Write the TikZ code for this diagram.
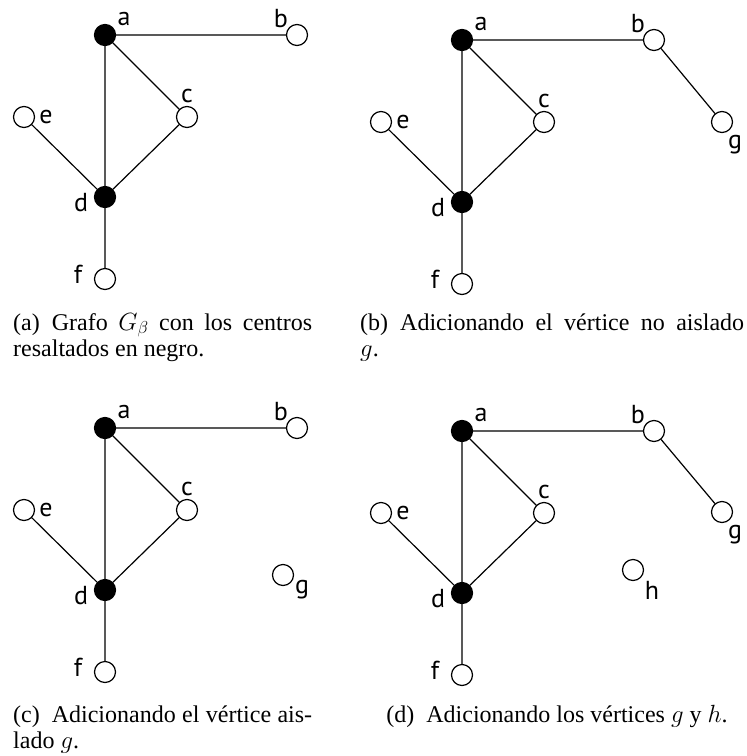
\documentclass[tikz,border=0pt]{standalone}
\usepackage{fontspec}
\setmainfont{Liberation Serif}
\newfontfamily\etqfont{PT Sans}

\tikzset{
  centro/.style={circle,fill=black,draw=black,line width=1.2pt,minimum size=21pt,inner sep=0pt},
  vert/.style={circle,fill=white,draw=black,line width=1.2pt,minimum size=21pt,inner sep=0pt},
  etq/.style={font=\etqfont\fontsize{26}{30}\selectfont,inner sep=0pt},
  arista/.style={line width=1.2pt},
  leyenda/.style={font=\fontsize{24}{26}\selectfont,inner sep=0pt,align=justify,anchor=base west}
}

% grafo comun a los cuatro paneles
\newcommand{\grafobase}{%
  \node[centro] (a) at (0,0) {};
  \node[vert] (b) at (192,0) {};
  \node[vert] (c) at (82,82) {};
  \node[vert] (e) at (-81,82) {};
  \node[centro] (d) at (0,162) {};
  \node[vert] (f) at (0,244) {};
  \foreach \n/\dx/\dy in {a/19/-16,b/-16/-16,c/0/-21,e/22/0,d/-24/6,f/-27/-5}
    \node[etq] (l\n) at (\n) [shift={(\dx,\dy)}] {\n};
  \draw[arista] (a) -- (b) (a) -- (c) (a) -- (d) (c) -- (d) (e) -- (d) (d) -- (f);
}

\begin{document}
\begin{tikzpicture}[x=1pt,y=-1pt]
  \useasboundingbox (0,0) rectangle (747,756);
  \begin{scope}[shift={(105,35)},name prefix=pa-]
    \grafobase
  \end{scope}
  \begin{scope}[shift={(462,40)},name prefix=pb-]
    \grafobase
    \node[vert] (g) at (260,82) {};
    \node[etq] (lg) at (g) [shift={(13,23)}] {g};
    \draw[arista] (b) -- (g);
  \end{scope}
  \begin{scope}[shift={(105,428)},name prefix=pc-]
    \grafobase
    \node[vert] (g) at (178,147) {};
    \node[etq] (lg) at (g) [shift={(19,15)}] {g};
  \end{scope}
  \begin{scope}[shift={(462,431)},name prefix=pd-]
    \grafobase
    \node[vert] (g) at (260,81) {};
    \node[etq] (lg) at (g) [shift={(13,23)}] {g};
    \draw[arista] (b) -- (g);
    \node[vert] (h) at (171,139) {};
    \node[etq] (lh) at (h) [shift={(19,20)}] {h};
  \end{scope}
  % leyendas
  \node[leyenda,text width=299pt] (capa) at (13,330)
    {(a)\enspace Grafo $G_\beta$ con los centros\linebreak resaltados en negro.};
  \node[leyenda,text width=384pt] (capb) at (360,330)
    {(b)\enspace Adicionando el v\'ertice no aislado\linebreak $g$.};
  \node[leyenda,text width=299pt] (capc) at (13,722)
    {(c)\enspace Adicionando el v\'ertice ais-\linebreak lado $g$.};
  \node[leyenda,anchor=base] (capd) at (557,722)
    {(d)\enspace Adicionando los v\'ertices $g$ y $h$.};
\end{tikzpicture}
\end{document}
